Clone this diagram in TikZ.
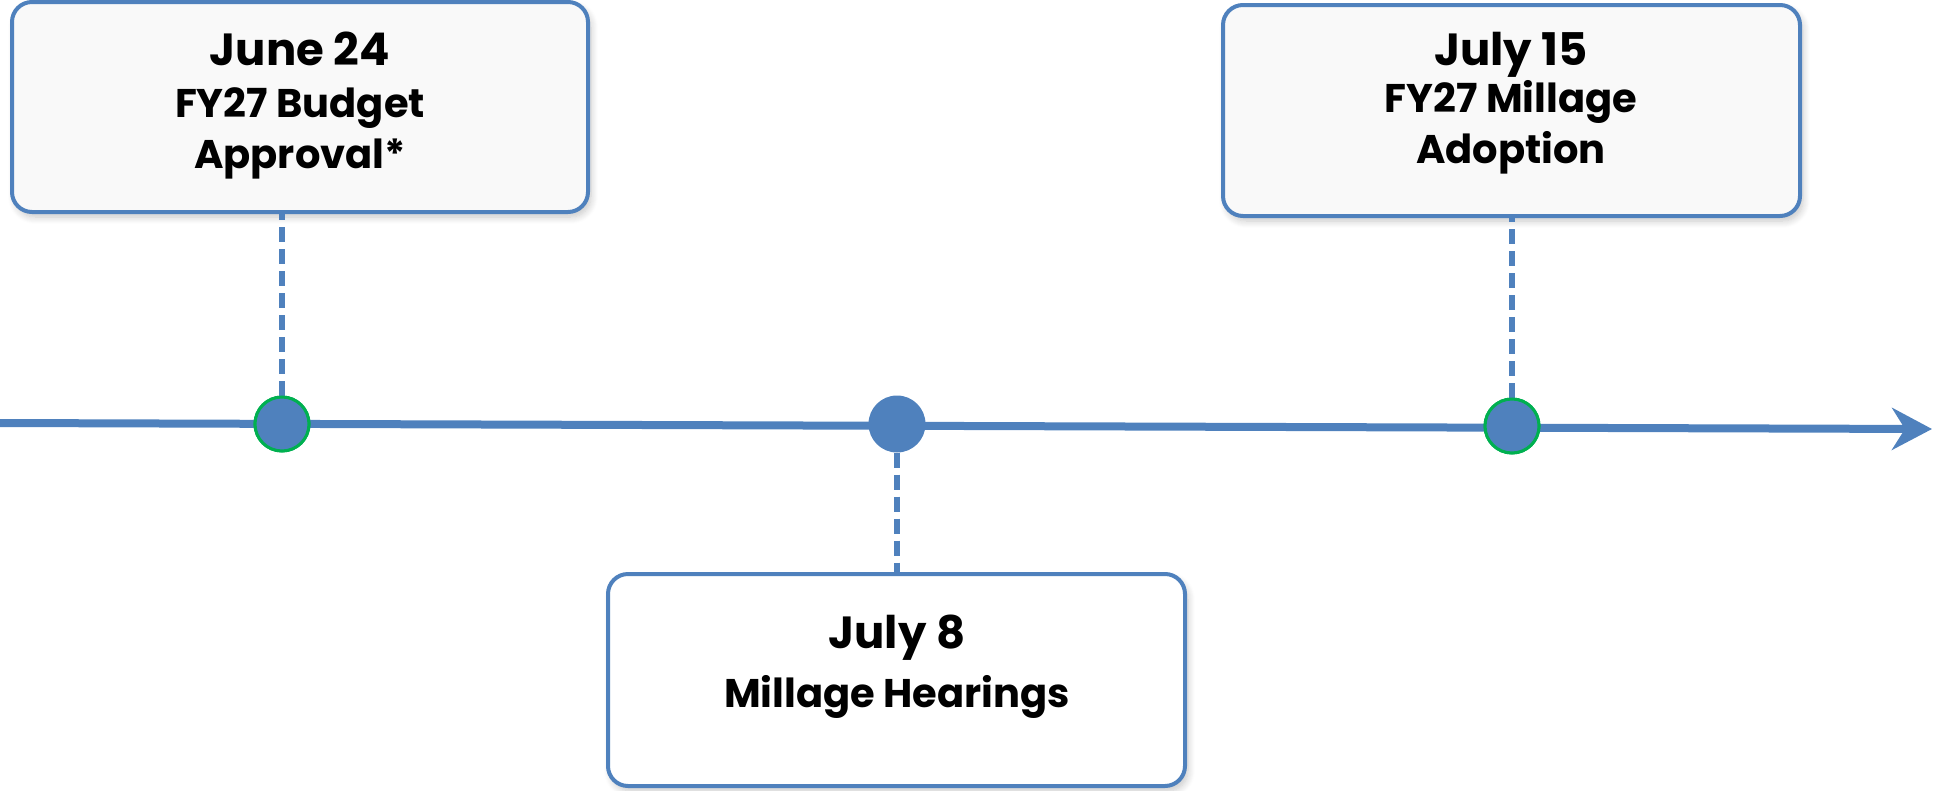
\documentclass[tikz,border=0pt]{standalone}
\usepackage{fontspec}
\setmainfont{Poppins}
\usetikzlibrary{arrows.meta,shadows.blur}
\definecolor{tlblue}{HTML}{4F81BD}
\definecolor{tlgreen}{HTML}{00B050}
\definecolor{boxfill}{HTML}{F9F9F9}
\tikzset{
  evbox/.style={draw=tlblue, line width=4pt, rounded corners=20pt, fill=boxfill,
    blur shadow={shadow xshift=3pt, shadow yshift=-5pt, shadow blur steps=8, shadow blur radius=7pt, shadow opacity=22},
    inner sep=0pt},
  bigtxt/.style={anchor=base, inner sep=0pt, font=\fontsize{45}{50}\selectfont\bfseries},
  smalltxt/.style={anchor=base, inner sep=0pt, font=\fontsize{40}{44}\selectfont\bfseries},
  milestone/.style={circle, fill=tlblue, minimum size=57pt, inner sep=0pt},
  done/.style={milestone, draw=tlgreen, line width=3pt, minimum size=54pt},
  leader/.style={draw=tlblue, line width=5.5pt, dash pattern=on 15pt off 7pt},
  axis/.style={draw=tlblue, line width=8pt, -{Stealth[length=40pt, width=42pt, inset=13pt]}}
}
\begin{document}
\begin{tikzpicture}[x=1pt, y=-1pt]
\useasboundingbox (0,0) rectangle (1933,790);
% boxes
\node[evbox, minimum width=576pt, minimum height=210pt] (b1) at (300,107) {};
\node[evbox, fill=white, minimum width=577pt, minimum height=212pt] (b2) at (896.5,680) {};
\node[evbox, minimum width=577pt, minimum height=211pt] (b3) at (1511.5,110.5) {};
% timeline
\coordinate (tstart) at (0,423);
\coordinate (tend) at (1932,429);
\draw[axis] (tstart) -- (tend);
% leaders
\node[done] (c1) at (282,424) {};
\node[milestone] (c2) at (897,424) {};
\node[done] (c3) at (1512,426) {};
\draw[leader] (c1.north) -- (c1.north |- b1.south);
\draw[leader] (c2.south) -- (c2.south |- b2.north);
\draw[leader] (c3.north) -- (c3.north |- b3.south);
% milestones on top
\node[done] at (c1) {};
\node[done] at (c3) {};
% texts
\node[bigtxt] (t1a) at (300,65) {June 24};
\node[smalltxt] (t1b) at (300,117) {FY27 Budget};
\node[smalltxt] (t1c) at (300,168) {Approval*};
\node[bigtxt] (t2a) at (897,648) {July 8};
\node[smalltxt] (t2b) at (897,707) {Millage Hearings};
\node[bigtxt] (t3a) at (1511,65) {July 15};
\node[smalltxt] (t3b) at (1511,112) {FY27 Millage};
\node[smalltxt] (t3c) at (1511,163) {Adoption};
\end{tikzpicture}
\end{document}
